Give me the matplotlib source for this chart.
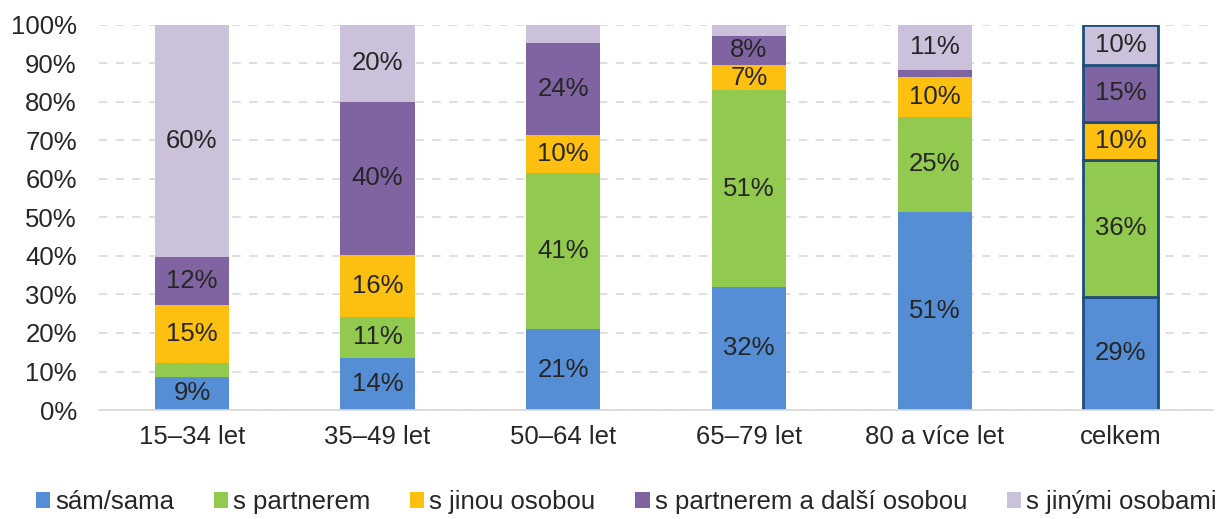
import matplotlib
matplotlib.use("Agg")
import matplotlib.pyplot as plt
import numpy as np

plt.rcParams['font.family'] = ['Liberation Sans', 'DejaVu Sans']

categories = ["15–34 let", "35–49 let", "50–64 let", "65–79 let", "80 a více let", "celkem"]
series_names = ["sám/sama", "s partnerem", "s jinou osobou", "s partnerem a další osobou", "s jinými osobami"]
sam = [8.7, 13.6, 21.0, 32.0, 51.5, 29.4]
partner = [3.4, 10.6, 40.6, 51.0, 24.6, 35.6]
jina = [15.2, 16.0, 9.9, 6.6, 10.4, 9.9]
partner_dalsi = [12.4, 39.9, 23.7, 7.6, 1.8, 14.6]
jine = [60.3, 19.9, 4.8, 2.8, 11.7, 10.5]
labels = [
    ["9%", "14%", "21%", "32%", "51%", "29%"],
    ["", "11%", "41%", "51%", "25%", "36%"],
    ["15%", "16%", "10%", "7%", "10%", "10%"],
    ["12%", "40%", "24%", "8%", "", "15%"],
    ["60%", "20%", "", "", "11%", "10%"],
]
colors = ["#558ED5", "#92C94F", "#FDC010", "#8064A2", "#CCC1DA"]

data = [sam, partner, jina, partner_dalsi, jine]
FS = 18.5

fig = plt.figure(figsize=(12.23, 5.19), dpi=100)
ax = fig.add_axes([0.081, 0.21, 0.911, 0.742])

x = np.arange(len(categories))
bottom = np.zeros(len(categories))
width = 0.4
for i, (vals, col) in enumerate(zip(data, colors)):
    vals = np.array(vals)
    edge = ["none"] * 5 + ["#1F4E79"]
    lw = [0] * 5 + [2.0]
    bars = ax.bar(x, vals, width, bottom=bottom, color=col, label=series_names[i],
                  edgecolor=edge, linewidth=lw, zorder=3)
    for j, b in enumerate(bars):
        if labels[i][j]:
            ax.text(x[j], bottom[j] + vals[j] / 2, labels[i][j], ha="center", va="center",
                    fontsize=FS, color="#262626", zorder=4)
    bottom += vals

ax.set_xlim(-0.5, len(categories) - 0.5)
ax.set_ylim(0, 100)
ax.set_yticks(np.arange(0, 101, 10))
ax.set_yticklabels([f"{v}%" for v in range(0, 101, 10)])
ax.set_xticks(x)
ax.set_xticklabels(categories)
ax.tick_params(axis="both", length=0, labelsize=FS, colors="#262626")
ax.tick_params(axis="x", pad=11)
ax.tick_params(axis="y", pad=16)
ax.yaxis.grid(True, linestyle=(0, (5, 5)), color="#D9D9D9", linewidth=1.2, zorder=0)
for s in ["top", "right", "left"]:
    ax.spines[s].set_visible(False)
ax.spines["bottom"].set_color("#D9D9D9")
ax.spines["bottom"].set_linewidth(1.2)
ax.spines["bottom"].set_zorder(5)

leg = fig.legend(loc="center", bbox_to_anchor=(0.512, 0.033), ncol=5, frameon=False,
                 fontsize=FS, handlelength=0.55, handleheight=0.55, handletextpad=0.2,
                 columnspacing=1.55, labelcolor="#262626", borderpad=0.0)
for h in leg.legend_handles:
    h.set_edgecolor("none")
    h.set_linewidth(0)

fig.savefig("out.png", dpi=100)
